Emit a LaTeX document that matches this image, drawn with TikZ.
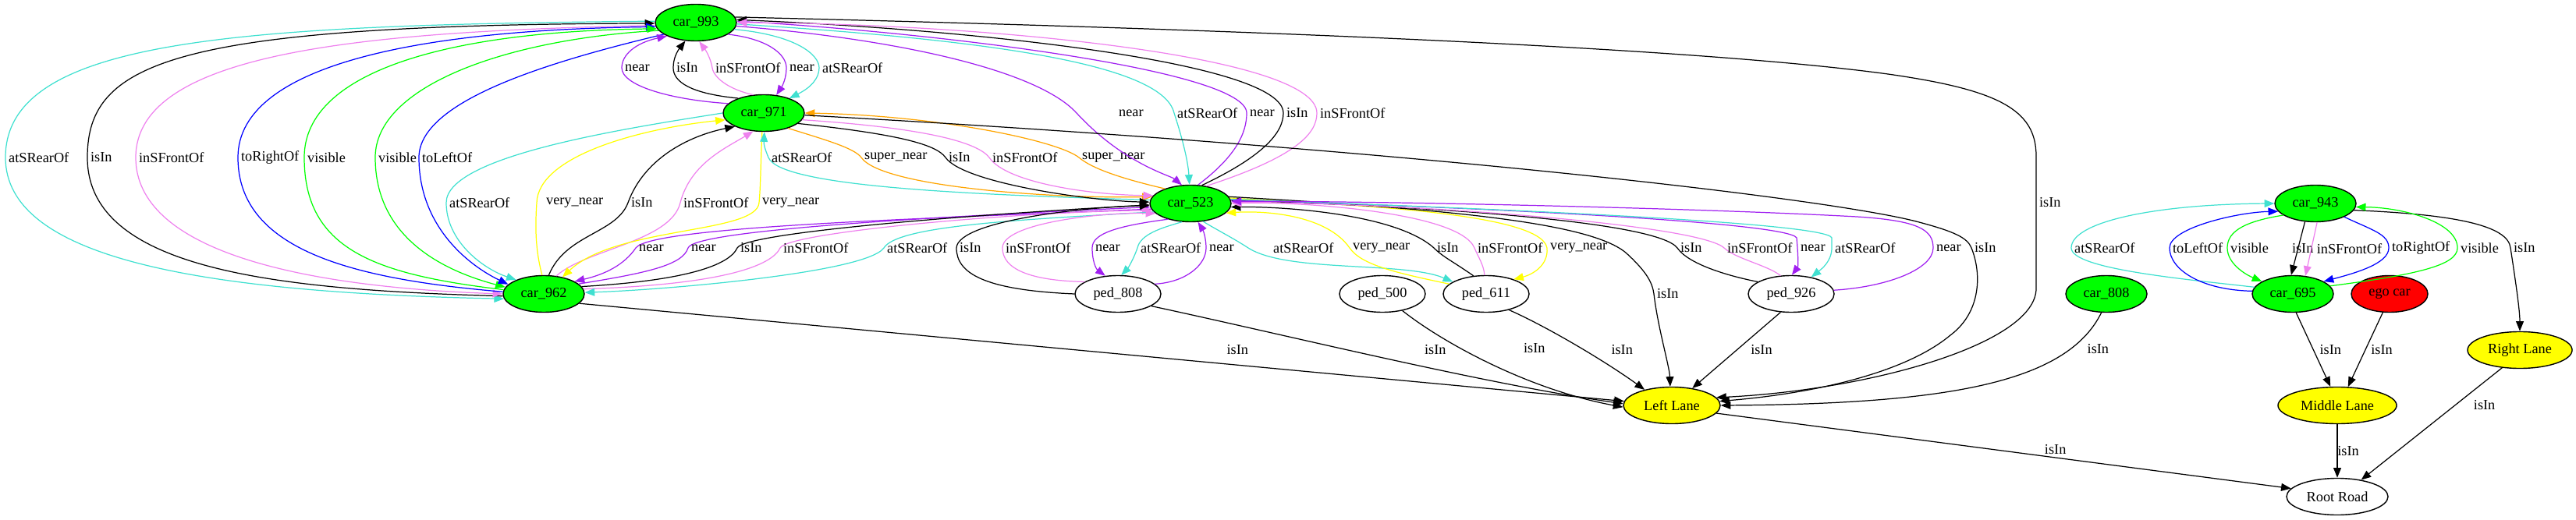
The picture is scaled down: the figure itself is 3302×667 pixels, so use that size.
\documentclass[tikz,border=0pt]{standalone}
\usepackage{fontspec}
\setmainfont{Liberation Serif}
\usetikzlibrary{arrows.meta,shapes.geometric}
\definecolor{cargreen}{RGB}{0,255,0}
\definecolor{egored}{RGB}{255,0,0}
\definecolor{laneyellow}{RGB}{255,255,0}
\definecolor{cnear}{RGB}{160,32,240}
\definecolor{crear}{RGB}{64,224,208}
\definecolor{cfront}{RGB}{238,130,238}
\definecolor{csuper}{RGB}{255,165,0}
\newcommand{\lblfont}{\fontsize{5.2}{6}\selectfont}
\tikzset{
  obj/.style={ellipse, draw, line width=0.4pt, inner sep=0pt, minimum height=0.47cm, font=\lblfont},
  car/.style={obj, fill=cargreen, minimum width=1.04cm},
  ped/.style={obj, fill=white, minimum width=1.1cm},
  lane/.style={obj, fill=laneyellow},
  rel/.style={-{Triangle[length=3.6pt,width=2.8pt]}, line width=0.35pt},
  relin/.style={rel, draw=black},
  relnear/.style={rel, draw=cnear},
  relrear/.style={rel, draw=crear},
  relfront/.style={rel, draw=cfront},
  relside/.style={rel, draw=blue},
  relvis/.style={rel, draw=cargreen},
  relsuper/.style={rel, draw=csuper},
  relvery/.style={rel, draw=laneyellow},
  lbl/.style={font=\lblfont, inner sep=1pt}
}
\begin{document}
\begin{tikzpicture}[x=0.01cm,y=-0.01cm]
\useasboundingbox (0,0) rectangle (3302,667);
\node[car] (c993) at (892,29) {car\_993};
\node[car] (c971) at (979,145) {car\_971};
\node[car] (c962) at (697,377) {car\_962};
\node[car] (c523) at (1526,261) {car\_523};
\node[ped] (p808) at (1433,377) {ped\_808};
\node[ped] (p500) at (1772,377) {ped\_500};
\node[ped] (p611) at (1905,377) {ped\_611};
\node[ped] (p926) at (2296,377) {ped\_926};
\node[car] (c808) at (2700,377) {car\_808};
\node[car] (c943) at (2968,261) {car\_943};
\node[car] (c695) at (2939,377) {car\_695};
\node[obj,fill=egored,minimum width=0.98cm] (ego) at (3063,377) {ego car};
\node[lane,minimum width=1.34cm] (rlane) at (3230,449) {Right Lane};
\node[lane,minimum width=1.24cm] (llane) at (2143,520) {Left Lane};
\node[lane,minimum width=1.52cm] (mlane) at (2996,520) {Middle Lane};
\node[obj,minimum width=1.30cm] (road) at (2996,637) {Root Road};

\draw[relrear] (c993.178) .. controls (300,32) and (7,50) .. (7,202) node[lbl,right]{atSRearOf} .. controls (7,330) and (250,375) .. (c962.187);
\draw[relin] (c962.183) .. controls (350,372) and (112,345) .. (112,202) node[lbl,right]{isIn} .. controls (112,80) and (220,32) .. (c993.181);
\draw[relfront] (c993.184) .. controls (450,40) and (174,70) .. (174,202) node[lbl,right]{inSFrontOf} .. controls (174,320) and (380,368) .. (c962.180);
\draw[relside] (c962.177) .. controls (450,358) and (305,320) .. (305,202) node[lbl,right]{toRightOf} .. controls (305,80) and (550,38) .. (c993.186);
\draw[relvis] (c962.174) .. controls (480,352) and (390,320) .. (390,202) node[lbl,right]{visible} .. controls (390,90) and (580,40) .. (c993.189);
\draw[relvis] (c993.192) .. controls (650,50) and (481,110) .. (481,202) node[lbl,right]{visible} .. controls (481,300) and (560,345) .. (c962.170);
\draw[relside] (c993.200) .. controls (700,80) and (537,130) .. (537,202) node[lbl,right]{toLeftOf} .. controls (537,290) and (600,340) .. (c962.165);

\draw[relrear] (c971.180) .. controls (800,165) and (572,200) .. (572,260) node[lbl,right]{atSRearOf} .. controls (572,310) and (620,345) .. (c962.153);
\draw[relvery] (c962.95) .. controls (686,320) and (686,290) .. (688,260) node[lbl,right,xshift=0.08cm]{very\_near} .. controls (690,200) and (820,165) .. (c971.190);
\draw[relin] (c962.75) .. controls (725,300) and (790,300) .. (805,260) node[lbl,right]{isIn} .. controls (825,205) and (880,175) .. (c971.205);
\draw[relfront] (c962.55) .. controls (750,320) and (860,310) .. (872,260) node[lbl,right]{inSFrontOf} .. controls (885,210) and (930,190) .. (c971.240);
\draw[relvery] (c971.265) .. controls (975,210) and (975,240) .. (973,260) node[lbl,right]{very\_near} .. controls (970,300) and (790,290) .. (c962.42);

\draw[relnear] (c523.188) .. controls (1200,280) and (835,290) .. (815,318) node[lbl,right]{near} .. controls (800,340) and (775,352) .. (c962.22);
\draw[relnear] (c962.16) .. controls (830,350) and (875,340) .. (882,318) node[lbl,right]{near} .. controls (890,295) and (1200,278) .. (c523.185);
\draw[relin] (c962.11) .. controls (880,360) and (935,340) .. (945,318) node[lbl,right]{isIn} .. controls (955,298) and (1250,275) .. (c523.182);
\draw[relfront] (c962.7) .. controls (930,365) and (990,340) .. (1000,318) node[lbl,right]{inSFrontOf} .. controls (1010,298) and (1300,272) .. (c523.190);
\draw[relrear] (c523.193) .. controls (1300,282) and (1150,290) .. (1133,318) node[lbl,right]{atSRearOf} .. controls (1110,350) and (850,372) .. (c962.2);

\draw[relrear] (c523.175) .. controls (1250,250) and (1000,240) .. (985,202) node[lbl,right]{atSRearOf} .. controls (980,190) and (979,185) .. (c971.272);
\draw[relsuper] (c971.328) .. controls (1060,180) and (1095,190) .. (1104,202) node[lbl,right]{super\_near} .. controls (1130,240) and (1350,255) .. (c523.170);
\draw[relin] (c971.343) .. controls (1150,172) and (1200,185) .. (1212,202) node[lbl,right]{isIn} .. controls (1235,235) and (1400,258) .. (c523.178);
\draw[relfront] (c971.350) .. controls (1200,165) and (1255,185) .. (1268,202) node[lbl,right]{inSFrontOf} .. controls (1290,235) and (1400,250) .. (c523.168);
\draw[relsuper] (c523.150) .. controls (1420,225) and (1395,212) .. (1383,202) node[lbl,right]{super\_near} .. controls (1355,180) and (1200,148) .. (c971.east);

\draw[relnear] (c971.165) .. controls (860,128) and (797,110) .. (797,87) node[lbl,right]{near} .. controls (797,70) and (815,55) .. (c993.205);
\draw[relin] (c971.150) .. controls (885,120) and (863,105) .. (863,87) node[lbl,right]{isIn} .. controls (863,75) and (868,66) .. (c993.240);
\draw[relfront] (c971.120) .. controls (935,115) and (915,100) .. (913,87) node[lbl,right]{inSFrontOf} .. controls (911,75) and (905,65) .. (c993.280);
\draw[relnear] (c993.340) .. controls (985,50) and (1008,70) .. (1008,87) node[lbl,right]{near} .. controls (1008,100) and (1003,110) .. (c971.55);
\draw[relrear] (c993.350) .. controls (1020,45) and (1050,70) .. (1050,87) node[lbl,right]{atSRearOf} .. controls (1050,100) and (1040,112) .. (c971.30);

\draw[relnear] (c993.355) .. controls (1150,50) and (1330,90) .. (1380,145) node[lbl,right,xshift=0.5cm]{near} .. controls (1440,210) and (1500,225) .. (c523.115);
\draw[relrear] (c993.358) .. controls (1250,50) and (1490,80) .. (1505,145) node[lbl,right]{atSRearOf} .. controls (1518,185) and (1523,210) .. (c523.93);
\draw[relnear] (c523.68) .. controls (1585,200) and (1598,170) .. (1598,145) node[lbl,right]{near} .. controls (1598,90) and (1200,42) .. (c993.2);
\draw[relin] (c523.58) .. controls (1620,200) and (1645,170) .. (1645,145) node[lbl,right]{isIn} .. controls (1645,80) and (1250,38) .. (c993.4);
\draw[relfront] (c523.48) .. controls (1665,200) and (1688,170) .. (1688,145) node[lbl,right]{inSFrontOf} .. controls (1688,70) and (1250,30) .. (c993.east);

\draw[relin] (c993.8) .. controls (1700,40) and (2200,65) .. (2420,95) .. controls (2560,115) and (2610,140) .. (2610,200) -- (2610,260) node[lbl,right]{isIn} -- (2610,370) .. controls (2610,440) and (2400,500) .. (llane.10);
\draw[relin] (c971.357) .. controls (1800,190) and (2350,255) .. (2460,285) .. controls (2505,297) and (2522,305) .. (2527,318) node[lbl,right]{isIn} .. controls (2540,350) and (2540,400) .. (2500,430) .. controls (2440,480) and (2320,505) .. (llane.5);

\draw[relin] (p808.west) .. controls (1260,372) and (1226,350) .. (1226,318) node[lbl,right]{isIn} .. controls (1228,282) and (1400,265) .. (c523.183);
\draw[relfront] (p808.160) .. controls (1320,360) and (1285,345) .. (1285,318) node[lbl,right]{inSFrontOf} .. controls (1285,285) and (1420,272) .. (c523.196);
\draw[relnear] (c523.215) .. controls (1430,290) and (1400,300) .. (1400,318) node[lbl,right]{near} .. controls (1400,335) and (1405,345) .. (p808.125);
\draw[relrear] (c523.245) .. controls (1490,292) and (1462,300) .. (1458,318) node[lbl,right]{atSRearOf} .. controls (1452,335) and (1445,345) .. (p808.80);
\draw[relnear] (p808.15) .. controls (1520,362) and (1546,340) .. (1546,318) node[lbl,right]{near} .. controls (1546,305) and (1542,295) .. (c523.292);
\draw[relrear] (c523.305) .. controls (1560,295) and (1580,305) .. (1600,318) node[lbl,right,xshift=0.28cm]{atSRearOf} .. controls (1650,350) and (1800,335) .. (p611.160);
\draw[relvery] (p611.165) .. controls (1790,350) and (1745,340) .. (1730,318) node[lbl,right]{very\_near} .. controls (1700,275) and (1620,270) .. (c523.345);
\draw[relin] (p611.125) .. controls (1862,335) and (1850,330) .. (1838,318) node[lbl,right]{isIn} .. controls (1790,275) and (1650,265) .. (c523.355);
\draw[relfront] (p611.95) .. controls (1902,340) and (1895,330) .. (1890,318) node[lbl,right]{inSFrontOf} .. controls (1870,270) and (1650,258) .. (c523.east);
\draw[relvery] (c523.8) .. controls (1700,262) and (1975,270) .. (1983,318) node[lbl,right]{very\_near} .. controls (1985,340) and (1965,352) .. (p611.28);
\draw[relin] (c523.10) .. controls (1850,268) and (2040,285) .. (2085,325) .. controls (2110,348) and (2118,362) .. (2120,377) node[lbl,right]{isIn} .. controls (2125,420) and (2140,470) .. (llane.95);

\draw[relin] (p926.160) .. controls (2220,355) and (2165,340) .. (2150,318) node[lbl,right]{isIn} .. controls (2125,285) and (1850,265) .. (c523.4);
\draw[relfront] (p926.120) .. controls (2265,340) and (2225,332) .. (2210,318) node[lbl,right]{inSFrontOf} .. controls (2180,290) and (1850,262) .. (c523.2);
\draw[relnear] (c523.5) .. controls (1900,266) and (2290,285) .. (2303,305) -- (2304,318) node[lbl,right]{near} .. controls (2305,332) and (2305,342) .. (p926.88);
\draw[relrear] (c523.6) .. controls (1900,267) and (2340,285) .. (2348,305) -- (2348,318) node[lbl,right]{atSRearOf} .. controls (2348,335) and (2335,345) .. (p926.40);
\draw[relnear] (p926.5) .. controls (2420,368) and (2478,345) .. (2478,318) node[lbl,right]{near} .. controls (2478,295) and (2460,283) .. (2380,278) .. controls (2200,268) and (1800,258) .. (c523.3);

\draw[relin] (c962.345) -- (llane.175) node[lbl,pos=0.63,yshift=0.2cm]{isIn};
\draw[relin] (p808.340) .. controls (1650,430) and (1900,492) .. (llane.178) node[lbl,pos=0.6,yshift=0.25cm]{isIn};
\draw[relin] (p500.320) .. controls (1850,440) and (1960,500) .. (llane.182) node[lbl,pos=0.35,xshift=0.95cm]{isIn};
\draw[relin] (p611.325) .. controls (1985,420) and (2060,465) .. (llane.150) node[lbl,pos=0.5,xshift=0.57cm,yshift=-0.04cm]{isIn};
\draw[relin] (p926.240) -- (llane.40) node[lbl,pos=0.49,xshift=0.31cm]{isIn};
\draw[relin] (c808.255) .. controls (2650,490) and (2500,518) .. (llane.0) node[lbl,pos=0.2,xshift=0.35cm]{isIn};
\draw[relin] (llane.350) -- (road.170) node[lbl,pos=0.59,yshift=0.1cm]{isIn};
\draw[relin] (c695.280) -- (mlane.110) node[lbl,pos=0.5,xshift=0.22cm]{isIn};
\draw[relin] (ego.250) -- (mlane.60) node[lbl,pos=0.5,xshift=0.21cm]{isIn};
\draw[relin] (mlane.south) -- (road.north) node[lbl,midway,xshift=0.14cm]{isIn};
\draw[relin] (rlane.225) -- (road.35) node[lbl,pos=0.33,xshift=0.37cm]{isIn};
\draw[relin] (c943.350) .. controls (3150,275) and (3215,290) .. (3218,318) node[lbl,right]{isIn} .. controls (3226,370) and (3230,400) .. (rlane.north);

\draw[relrear] (c695.170) .. controls (2800,358) and (2655,345) .. (2655,318) node[lbl,right]{atSRearOf} .. controls (2655,285) and (2760,262) .. (c943.west);
\draw[relside] (c695.176) .. controls (2820,372) and (2781,345) .. (2781,318) node[lbl,right]{toLeftOf} .. controls (2781,292) and (2870,272) .. (c943.192);
\draw[relvis] (c943.200) .. controls (2870,285) and (2855,300) .. (2855,318) node[lbl,right]{visible} .. controls (2855,338) and (2878,352) .. (c695.158);
\draw[relin] (c943.240) -- (c695.95) node[lbl,pos=0.5,xshift=0.06cm]{isIn};
\draw[relfront] (c943.275) -- (c695.55) node[lbl,pos=0.5,right,xshift=0.03cm]{inSFrontOf};
\draw[relside] (c943.335) .. controls (3040,295) and (3062,300) .. (3062,318) node[lbl,right]{toRightOf} .. controls (3062,338) and (3020,350) .. (c695.22);
\draw[relvis] (c695.12) .. controls (3100,352) and (3150,340) .. (3150,318) node[lbl,right]{visible} .. controls (3150,285) and (3080,266) .. (c943.355);
\end{tikzpicture}
\end{document}
